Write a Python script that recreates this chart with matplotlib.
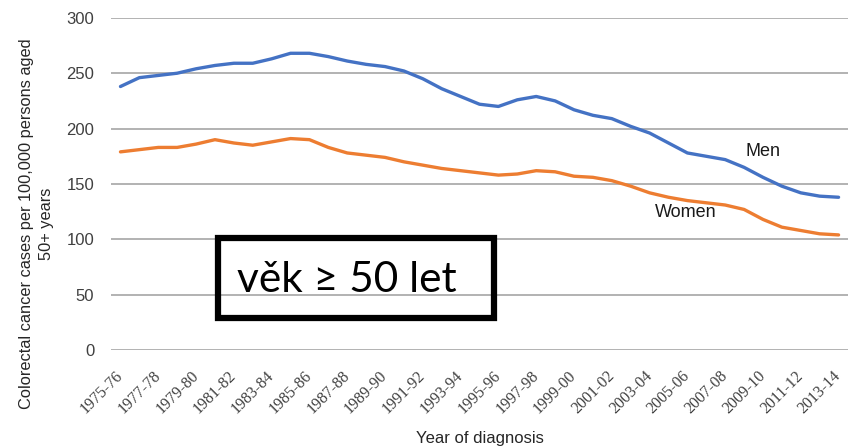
import numpy as np
import matplotlib
matplotlib.use("Agg")
import matplotlib.pyplot as plt
from matplotlib.patches import Rectangle

plt.rcParams['font.family'] = ['Liberation Sans', 'DejaVu Sans']

# two-year periods, 1975-76 ... 2013-14
start_years = list(range(1975, 2014))
periods = [f"{y}-{str(y + 1)[-2:]}" for y in start_years]

# incidence per 100,000 persons aged 50+
men = [238, 246, 248, 250, 254, 257, 259, 259, 263, 268, 268, 265, 261,
       258, 256, 252, 245, 236, 229, 222, 220, 226, 229, 225, 217, 212,
       209, 202, 196, 187, 178, 175, 172, 165, 156, 148, 142, 139, 138]
women = [179, 181, 183, 183, 186, 190, 187, 185, 188, 191, 190, 183, 178,
         176, 174, 170, 167, 164, 162, 160, 158, 159, 162, 161, 157, 156,
         153, 148, 142, 138, 135, 133, 131, 127, 118, 111, 108, 105, 104]

yticks = [0, 50, 100, 150, 200, 250, 300]

fig = plt.figure(figsize=(8.54, 4.46), dpi=100)
ax = fig.add_axes([0.13, 0.215, 0.863, 0.745])

x = np.arange(len(periods))
ax.plot(x, men, color='#4472C4', lw=2.4, solid_capstyle='round')
ax.plot(x, women, color='#ED7D31', lw=2.4, solid_capstyle='round')

ax.set_xlim(-0.5, len(periods) - 0.5)
ax.set_ylim(0, 300)
ax.set_yticks(yticks)
ax.yaxis.grid(True, color='#a6a6a6', lw=1.2)
ax.set_axisbelow(True)
for s in ax.spines.values():
    s.set_visible(False)
ax.tick_params(axis='y', length=0, labelsize=12, colors='#404040', pad=12)
ax.tick_params(axis='x', length=0, pad=17)

ax.set_xticks(x[::2])
ax.set_xticklabels(periods[::2], rotation=45, ha='right', va='center',
                   rotation_mode='anchor', family='Liberation Serif',
                   fontsize=11.5, color='#404040')

ax.set_ylabel('Colorectal cancer cases per 100,000 persons aged\n50+ years',
              fontsize=11.8, color='#262626', linespacing=1.45)
ax.yaxis.set_label_coords(-0.077, 0.38)
ax.set_xlabel('Year of diagnosis', fontsize=12, color='#262626', labelpad=10)

ax.text(34, 179, 'Men', fontsize=13, color='#1a1a1a', ha='center', va='center')
ax.text(29.9, 124, 'Women', fontsize=13, color='#1a1a1a', ha='center', va='center')

# boxed note
fig.patches.append(Rectangle((218 / 854, 1 - 318 / 446), 276 / 854, 80 / 446,
                             transform=fig.transFigure, fill=False,
                             edgecolor='black', lw=4.5))
fig.text(347 / 854, 1 - 280 / 446, 'věk ≥ 50 let', fontsize=30.5,
         family=['Lato', 'DejaVu Sans'], ha='center', va='center', color='black')

fig.savefig('out.png', dpi=100)
